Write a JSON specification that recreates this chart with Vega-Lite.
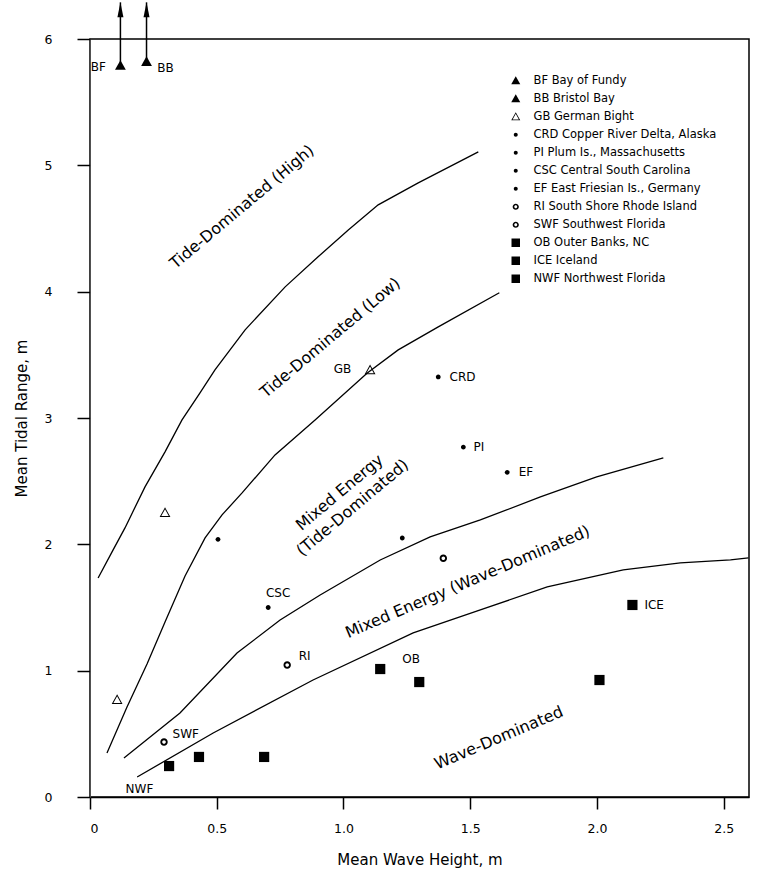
{
  "$schema": "https://vega.github.io/schema/vega-lite/v6.json",
  "autosize": {"type": "none"},
  "padding": {"left": 90, "top": 39, "right": 14, "bottom": 75},
  "width": 659,
  "height": 758,
  "config": {
    "font": "DejaVu Sans",
    "view": {"stroke": "black", "strokeWidth": 1.5},
    "axis": {"grid": false, "labelColor": "black", "titleColor": "black", "titleFontWeight": "normal", "tickColor": "black", "labelFont": "DejaVu Sans", "titleFont": "DejaVu Sans"},
    "legend": {"labelFont": "DejaVu Sans"}
  },
  "datasets": {
    "curves": [
      {"c": "A", "x": 0.032, "y": 1.734}, {"c": "A", "x": 0.087, "y": 1.94}, {"c": "A", "x": 0.138, "y": 2.13}, {"c": "A", "x": 0.217, "y": 2.455}, {"c": "A", "x": 0.296, "y": 2.732}, {"c": "A", "x": 0.363, "y": 2.985}, {"c": "A", "x": 0.434, "y": 3.199}, {"c": "A", "x": 0.493, "y": 3.381}, {"c": "A", "x": 0.612, "y": 3.698}, {"c": "A", "x": 0.77, "y": 4.038}, {"c": "A", "x": 0.9, "y": 4.276}, {"c": "A", "x": 1.019, "y": 4.489}, {"c": "A", "x": 1.137, "y": 4.687}, {"c": "A", "x": 1.295, "y": 4.861}, {"c": "A", "x": 1.532, "y": 5.107},
      {"c": "B", "x": 0.067, "y": 0.348}, {"c": "B", "x": 0.146, "y": 0.713}, {"c": "B", "x": 0.225, "y": 1.053}, {"c": "B", "x": 0.296, "y": 1.386}, {"c": "B", "x": 0.375, "y": 1.75}, {"c": "B", "x": 0.454, "y": 2.051}, {"c": "B", "x": 0.521, "y": 2.233}, {"c": "B", "x": 0.6, "y": 2.407}, {"c": "B", "x": 0.73, "y": 2.708}, {"c": "B", "x": 0.888, "y": 2.985}, {"c": "B", "x": 1.094, "y": 3.357}, {"c": "B", "x": 1.216, "y": 3.539}, {"c": "B", "x": 1.374, "y": 3.721}, {"c": "B", "x": 1.615, "y": 3.991},
      {"c": "C", "x": 0.134, "y": 0.309}, {"c": "C", "x": 0.355, "y": 0.665}, {"c": "C", "x": 0.58, "y": 1.14}, {"c": "C", "x": 0.75, "y": 1.401}, {"c": "C", "x": 0.908, "y": 1.599}, {"c": "C", "x": 1.145, "y": 1.876}, {"c": "C", "x": 1.342, "y": 2.059}, {"c": "C", "x": 1.54, "y": 2.193}, {"c": "C", "x": 1.777, "y": 2.375}, {"c": "C", "x": 1.999, "y": 2.534}, {"c": "C", "x": 2.262, "y": 2.684},
      {"c": "D", "x": 0.186, "y": 0.158}, {"c": "D", "x": 0.486, "y": 0.507}, {"c": "D", "x": 0.88, "y": 0.926}, {"c": "D", "x": 1.275, "y": 1.299}, {"c": "D", "x": 1.54, "y": 1.481}, {"c": "D", "x": 1.804, "y": 1.663}, {"c": "D", "x": 2.104, "y": 1.797}, {"c": "D", "x": 2.329, "y": 1.853}, {"c": "D", "x": 2.527, "y": 1.877}, {"c": "D", "x": 2.598, "y": 1.892}
    ],
    "sites": [
      {"site": "BF Bay of Fundy", "x": 0.12, "y": 5.79},
      {"site": "BB Bristol Bay", "x": 0.223, "y": 5.82},
      {"site": "GB German Bight", "x": 0.296, "y": 2.25},
      {"site": "GB German Bight", "x": 0.107, "y": 0.77},
      {"site": "GB German Bight", "x": 1.105, "y": 3.38},
      {"site": "CRD Copper River Delta, Alaska", "x": 1.374, "y": 3.325},
      {"site": "PI Plum Is., Massachusetts", "x": 1.473, "y": 2.77},
      {"site": "CSC Central South Carolina", "x": 0.703, "y": 1.5},
      {"site": "CSC Central South Carolina", "x": 0.505, "y": 2.04},
      {"site": "EF East Friesian Is., Germany", "x": 1.646, "y": 2.57},
      {"site": "EF East Friesian Is., Germany", "x": 1.232, "y": 2.05},
      {"site": "RI South Shore Rhode Island", "x": 0.778, "y": 1.045},
      {"site": "RI South Shore Rhode Island", "x": 1.394, "y": 1.89},
      {"site": "SWF Southwest Florida", "x": 0.292, "y": 0.435},
      {"site": "OB Outer Banks, NC", "x": 1.145, "y": 1.013},
      {"site": "OB Outer Banks, NC", "x": 1.299, "y": 0.91},
      {"site": "ICE Iceland", "x": 2.14, "y": 1.52},
      {"site": "ICE Iceland", "x": 2.01, "y": 0.926},
      {"site": "NWF Northwest Florida", "x": 0.312, "y": 0.245},
      {"site": "NWF Northwest Florida", "x": 0.43, "y": 0.317},
      {"site": "NWF Northwest Florida", "x": 0.687, "y": 0.317}
    ],
    "arrows": [
      {"x": 0.12, "y": 5.79, "y2": 6.29},
      {"x": 0.223, "y": 5.82, "y2": 6.29}
    ],
    "labels": [
      {"t": "BF", "x": 0.033, "y": 5.78},
      {"t": "BB", "x": 0.298, "y": 5.77},
      {"t": "GB", "x": 0.996, "y": 3.39},
      {"t": "CRD", "x": 1.47, "y": 3.325},
      {"t": "PI", "x": 1.534, "y": 2.77},
      {"t": "EF", "x": 1.72, "y": 2.57},
      {"t": "CSC", "x": 0.742, "y": 1.615},
      {"t": "RI", "x": 0.847, "y": 1.116},
      {"t": "SWF", "x": 0.378, "y": 0.499},
      {"t": "OB", "x": 1.267, "y": 1.093},
      {"t": "ICE", "x": 2.226, "y": 1.52},
      {"t": "NWF", "x": 0.195, "y": 0.063}
    ],
    "regions": [
      {"t": "Tide-Dominated (High)", "x": 0.6, "y": 4.67},
      {"t": "Tide-Dominated (Low)", "x": 0.948, "y": 3.634},
      {"t": "Mixed Energy\n(Tide-Dominated)", "x": 0.985, "y": 2.41},
      {"t": "Mixed Energy (Wave-Dominated)", "x": 1.49, "y": 1.702},
      {"t": "Wave-Dominated", "x": 1.613, "y": 0.467}
    ]
  },
  "encoding": {
    "x": {"field": "x", "type": "quantitative", "scale": {"domain": [0, 2.6], "nice": false, "zero": false},
      "axis": {"title": "Mean Wave Height, m", "values": [0, 0.5, 1, 1.5, 2, 2.5], "labelExpr": "datum.value == 0 ? '0' : format(datum.value, '.1f')", "tickSize": 12, "tickWidth": 1.5, "domainColor": "black", "domainWidth": 1.5, "labelPadding": 13, "labelFontSize": 12.5, "titleFontSize": 15, "titlePadding": 18}},
    "y": {"field": "y", "type": "quantitative", "scale": {"domain": [0, 6], "nice": false, "zero": false},
      "axis": {"title": "Mean Tidal Range, m", "values": [0, 1, 2, 3, 4, 5, 6], "tickSize": 13, "tickWidth": 1.5, "domainColor": "#555", "domainWidth": 0.8, "labelPadding": 25, "labelFontSize": 12.5, "titleFontSize": 15, "titlePadding": 15}}
  },
  "layer": [
    {
      "data": {"name": "curves"},
      "mark": {"type": "line", "color": "black", "strokeWidth": 1.3},
      "encoding": {"detail": {"field": "c", "type": "nominal"}}
    },
    {
      "data": {"name": "arrows"},
      "mark": {"type": "rule", "color": "black", "strokeWidth": 1.5},
      "encoding": {"y2": {"field": "y2"}}
    },
    {
      "data": {"name": "arrows"},
      "mark": {"type": "point", "filled": true, "color": "black", "opacity": 1, "size": 900, "shape": "M0,0L0.2,1L-0.2,1Z"},
      "encoding": {"y": {"field": "y2", "type": "quantitative"}}
    },
    {
      "data": {"name": "sites"},
      "mark": {"type": "point", "filled": true, "color": "black", "opacity": 1, "size": 144, "strokeWidth": 0},
      "encoding": {
        "shape": {"field": "site", "type": "nominal",
          "scale": {
            "domain": ["BF Bay of Fundy", "BB Bristol Bay", "GB German Bight", "CRD Copper River Delta, Alaska", "PI Plum Is., Massachusetts", "CSC Central South Carolina", "EF East Friesian Is., Germany", "RI South Shore Rhode Island", "SWF Southwest Florida", "OB Outer Banks, NC", "ICE Iceland", "NWF Northwest Florida"],
            "range": [
              "M0,-0.9L0.9,0.7L-0.9,0.7Z",
              "M0,-0.9L0.9,0.7L-0.9,0.7Z",
              "M0,-0.9L0.9,0.7L-0.9,0.7ZM0,-0.58L-0.62,0.53L0.62,0.53Z",
              "M-0.4,0A0.4,0.4 0 1,1 0.4,0A0.4,0.4 0 1,1 -0.4,0Z",
              "M-0.4,0A0.4,0.4 0 1,1 0.4,0A0.4,0.4 0 1,1 -0.4,0Z",
              "M-0.4,0A0.4,0.4 0 1,1 0.4,0A0.4,0.4 0 1,1 -0.4,0Z",
              "M-0.4,0A0.4,0.4 0 1,1 0.4,0A0.4,0.4 0 1,1 -0.4,0Z",
              "M-0.62,0A0.62,0.62 0 1,1 0.62,0A0.62,0.62 0 1,1 -0.62,0ZM-0.3,0A0.3,0.3 0 1,0 0.3,0A0.3,0.3 0 1,0 -0.3,0Z",
              "M-0.62,0A0.62,0.62 0 1,1 0.62,0A0.62,0.62 0 1,1 -0.62,0ZM-0.3,0A0.3,0.3 0 1,0 0.3,0A0.3,0.3 0 1,0 -0.3,0Z",
              "M-0.85,-0.85L0.85,-0.85L0.85,0.85L-0.85,0.85Z",
              "M-0.85,-0.85L0.85,-0.85L0.85,0.85L-0.85,0.85Z",
              "M-0.85,-0.85L0.85,-0.85L0.85,0.85L-0.85,0.85Z"
            ]
          },
          "legend": {"title": null, "orient": "none", "legendX": 420, "legendY": 36, "padding": 0, "symbolSize": 100, "symbolFillColor": "black", "symbolStrokeWidth": 0, "symbolOpacity": 1, "labelFontSize": 11.5, "labelColor": "black", "labelOffset": 12, "rowPadding": 5, "labelLimit": 300}
        }
      }
    },
    {
      "data": {"name": "labels"},
      "mark": {"type": "text", "fontSize": 12, "color": "black", "align": "center", "baseline": "middle"},
      "encoding": {"text": {"field": "t"}}
    },
    {
      "data": {"name": "regions"},
      "transform": [{"filter": {"field": "t", "oneOf": ["Tide-Dominated (High)", "Tide-Dominated (Low)", "Mixed Energy\n(Tide-Dominated)"]}}],
      "mark": {"type": "text", "fontSize": 16, "color": "black", "align": "center", "baseline": "middle", "angle": -40, "lineBreak": "\n", "lineHeight": 20},
      "encoding": {"text": {"field": "t"}}
    },
    {
      "data": {"name": "regions"},
      "transform": [{"filter": {"field": "t", "oneOf": ["Mixed Energy (Wave-Dominated)", "Wave-Dominated"]}}],
      "mark": {"type": "text", "fontSize": 16, "color": "black", "align": "center", "baseline": "middle", "angle": -23},
      "encoding": {"text": {"field": "t"}}
    }
  ]
}
